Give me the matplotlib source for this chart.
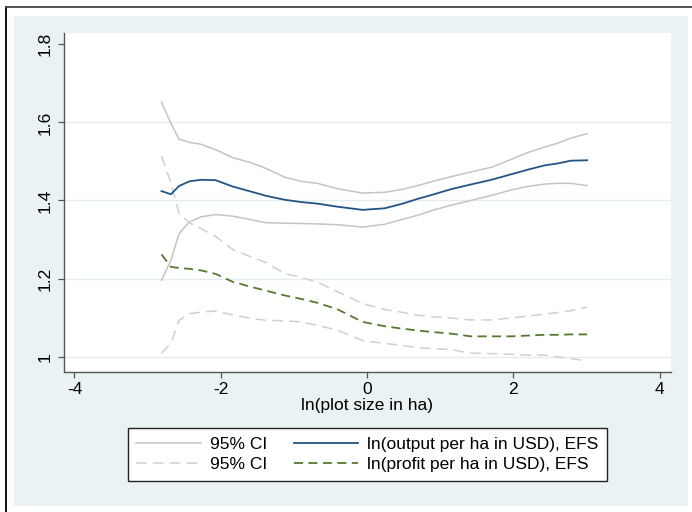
import matplotlib
matplotlib.use("Agg")
import matplotlib.pyplot as plt
from matplotlib.lines import Line2D
from matplotlib.patches import Rectangle

plt.rcParams['font.family'] = ['Liberation Sans', 'DejaVu Sans']

# ln(plot size in ha)
plot_size = [-2.81, -2.68, -2.57, -2.43, -2.27, -2.07, -1.84, -1.59, -1.38, -1.13,
             -0.90, -0.68, -0.40, -0.06, 0.24, 0.47, 0.69, 0.90, 1.15, 1.42,
             1.70, 1.97, 2.20, 2.43, 2.61, 2.79, 3.01]

# ln(output per ha in USD), EFS with 95% CI
output_hi = [1.652, 1.597, 1.557, 1.549, 1.544, 1.530, 1.510, 1.497, 1.482, 1.460,
             1.449, 1.444, 1.430, 1.419, 1.421, 1.428, 1.438, 1.449, 1.461, 1.473,
             1.485, 1.505, 1.523, 1.537, 1.547, 1.560, 1.571]
output_mean = [1.424, 1.416, 1.437, 1.449, 1.453, 1.452, 1.436, 1.423, 1.412, 1.402,
               1.396, 1.392, 1.384, 1.376, 1.380, 1.391, 1.404, 1.415, 1.429, 1.441,
               1.453, 1.467, 1.479, 1.490, 1.495, 1.502, 1.503]
output_lo = [1.196, 1.247, 1.315, 1.345, 1.358, 1.364, 1.360, 1.351, 1.343, 1.342,
             1.341, 1.340, 1.338, 1.332, 1.339, 1.351, 1.362, 1.375, 1.388, 1.400,
             1.413, 1.427, 1.436, 1.442, 1.444, 1.444, 1.438]

# ln(profit per ha in USD), EFS with 95% CI
profit_hi = [1.514, 1.444, 1.367, 1.343, 1.328, 1.308, 1.275, 1.256, 1.241, 1.213,
             1.203, 1.191, 1.166, 1.136, 1.121, 1.114, 1.106, 1.102, 1.099, 1.094,
             1.094, 1.099, 1.104, 1.109, 1.113, 1.118, 1.127]
profit_mean = [1.262, 1.230, 1.227, 1.225, 1.221, 1.212, 1.192, 1.179, 1.169, 1.157,
               1.148, 1.138, 1.121, 1.089, 1.078, 1.072, 1.067, 1.063, 1.059, 1.052,
               1.052, 1.052, 1.054, 1.056, 1.056, 1.057, 1.057]
profit_lo = [1.008, 1.035, 1.093, 1.110, 1.114, 1.117, 1.107, 1.098, 1.093, 1.092,
             1.089, 1.080, 1.068, 1.041, 1.034, 1.029, 1.023, 1.021, 1.018, 1.009,
             1.008, 1.006, 1.004, 1.004, 0.999, 0.995, 0.989]

x_ticks = [-4, -2, 0, 2, 4]
y_ticks = [1.0, 1.2, 1.4, 1.6, 1.8]
y_tick_labels = ['1', '1.2', '1.4', '1.6', '1.8']

FS = 12.5
W, H = 692, 512
fig = plt.figure(figsize=(W / 100, H / 100), dpi=100, facecolor='white')

# outer frame and graph region background
fig.add_artist(Line2D([6 / W, 6 / W], [0, 1 - 7 / H], transform=fig.transFigure,
                      color='black', lw=1.3))
fig.add_artist(Line2D([6 / W, 1], [1 - 7 / H, 1 - 7 / H], transform=fig.transFigure,
                      color='#444444', lw=1.3))
fig.add_artist(Rectangle((14 / W, 1 - 506 / H), (688 - 14) / W, (506 - 16) / H,
                         transform=fig.transFigure, facecolor='#EAF2F3',
                         edgecolor='none', zorder=0))

ax = fig.add_axes([63.5 / W, 1 - 371.5 / H, (670.5 - 63.5) / W, (371.5 - 33) / H])
ax.set_facecolor('white')

ci_gray = '#c4c4c4'
ax.plot(plot_size, output_hi, color=ci_gray, lw=1.1, label='95% CI')
ax.plot(plot_size, output_lo, color=ci_gray, lw=1.1)
ax.plot(plot_size, profit_hi, color='#d0d0d0', lw=1.1, ls=(0, (7, 4)), label='95% CI')
ax.plot(plot_size, profit_lo, color='#d0d0d0', lw=1.1, ls=(0, (7, 4)))
ax.plot(plot_size, output_mean, color='#245384', lw=1.3,
        label='ln(output per ha in USD), EFS')
ax.plot(plot_size, profit_mean, color='#557a30', lw=1.3, ls=(0, (5, 3)),
        label='ln(profit per ha in USD), EFS')

ax.set_xlim(-4.15, 4.15)
ax.set_ylim(0.962, 1.829)
ax.set_xticks(x_ticks)
ax.set_xticklabels([str(t) for t in x_ticks], fontsize=FS)
ax.set_yticks(y_ticks)
ax.set_yticklabels(y_tick_labels, fontsize=FS, rotation=90, va='center')

for yv in y_ticks[:-1]:
    ax.axhline(yv, color='#e4eef0', lw=1.0, zorder=0)

for side in ('top', 'right'):
    ax.spines[side].set_visible(False)
for side in ('left', 'bottom'):
    ax.spines[side].set_color('#555555')
    ax.spines[side].set_linewidth(1.0)
ax.tick_params(direction='out', length=4.5, width=0.9, color='#555555', pad=3,
               labelcolor='black')

ax.set_xlabel('ln(plot size in ha)', fontsize=FS, labelpad=1)

handles, labels = ax.get_legend_handles_labels()
leg = fig.legend(handles, labels, ncol=2, loc='center',
                 bbox_to_anchor=((129 + 606) / 2 / W, 1 - (427 + 482) / 2 / H),
                 fontsize=FS, frameon=True, fancybox=False, edgecolor='#222222',
                 facecolor='white', framealpha=1, handlelength=3.7,
                 handletextpad=0.55, columnspacing=1.5, labelspacing=0.32,
                 borderpad=0.5, borderaxespad=0)
leg.get_frame().set_linewidth(1.0)

fig.savefig('out.png', dpi=100, facecolor='white')
